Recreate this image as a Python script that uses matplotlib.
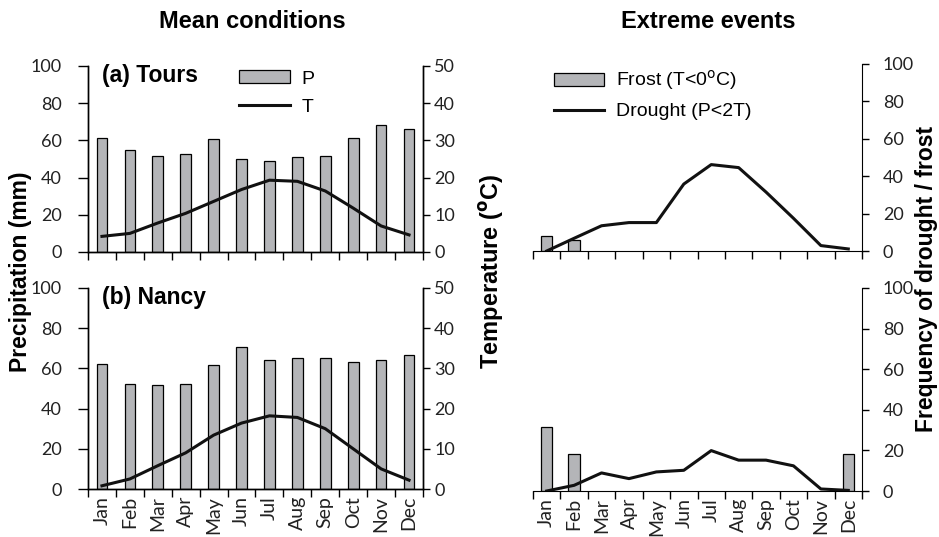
import numpy as np
import matplotlib
matplotlib.use("Agg")
import matplotlib.pyplot as plt
from matplotlib.ticker import FixedLocator, NullFormatter, FixedFormatter

months = ["Jan", "Feb", "Mar", "Apr", "May", "Jun",
          "Jul", "Aug", "Sep", "Oct", "Nov", "Dec"]

# mean conditions
tours_p = [61.5, 55, 51.5, 52.5, 60.5, 50, 49, 51, 51.5, 61.5, 68.5, 66]
tours_t = [4.2, 5.0, 7.8, 10.4, 13.6, 16.8, 19.3, 19.0, 16.4, 11.8, 7.0, 4.6]
nancy_p = [62.2, 52.4, 51.6, 52.4, 61.5, 70.6, 64, 65.3, 65.3, 63, 64, 66.8]
nancy_t = [0.8, 2.5, 5.8, 9.0, 13.4, 16.4, 18.2, 17.8, 15.0, 10.0, 5.0, 2.2]

# extreme events (%)
tours_frost = [8, 5.7, 0, 0, 0, 0, 0, 0, 0, 0, 0, 0]
tours_drought = [0, 6.8, 13.5, 15.2, 15.2, 35.8, 46.2, 44.6, 31.5, 17.5, 2.9, 1.1]
nancy_frost = [31.6, 18, 0, 0, 0, 0, 0, 0, 0, 0, 0, 18]
nancy_drought = [0, 2.8, 8.9, 6.1, 9.4, 10.2, 19.9, 15.2, 15.2, 12.4, 1.0, 0.3]

tick_font = "Lato"
bold_font = "Liberation Sans"
bar_col = "#b4b5b8"
tfs = 13
lfs = 17

W, H = 939, 537
fig = plt.figure(figsize=(W / 100, H / 100), dpi=100)


def px(x0, top, x1, bottom):
    return [x0 / W, 1 - bottom / H, (x1 - x0) / W, (bottom - top) / H]


x = np.arange(12)


def style_x(ax, labels):
    ax.set_xlim(-0.5, 11.5)
    ax.xaxis.set_major_locator(FixedLocator(np.arange(-0.5, 12, 1)))
    ax.xaxis.set_major_formatter(NullFormatter())
    ax.xaxis.set_minor_locator(FixedLocator(x))
    if labels:
        ax.xaxis.set_minor_formatter(FixedFormatter(months))
    else:
        ax.xaxis.set_minor_formatter(NullFormatter())
    ax.tick_params(axis="x", which="major", direction="out", length=6, width=1)
    ax.tick_params(axis="x", which="minor", length=0, pad=5,
                   labelrotation=90, labelsize=14, labelcolor="#222222")
    for lab in ax.get_xticklabels(minor=True):
        lab.set_fontfamily(tick_font)


def style_y(ax, top, length, pad):
    ax.set_ylim(0, top)
    ax.set_yticks(np.linspace(0, top, 6))
    ax.tick_params(axis="y", direction="out", length=length, width=1,
                   labelsize=tfs, pad=pad, labelcolor="#222222")
    for lab in ax.get_yticklabels():
        lab.set_fontfamily(tick_font)


def nonzero(vals):
    idx = [i for i, v in enumerate(vals) if v > 0]
    return idx, [vals[i] for i in idx]


leg_kw = dict(loc="upper left", frameon=False, handlelength=2.6,
              handleheight=0.65, labelspacing=0.55, handletextpad=0.6,
              prop={"family": "Liberation Sans", "size": 14})


def mean_panel(rect, p, t, title, legend, labels):
    ax = fig.add_axes(rect)
    bars = ax.bar(x, p, width=0.38, color=bar_col, edgecolor="black",
                  linewidth=0.9, zorder=2)
    style_x(ax, labels)
    style_y(ax, 100, 7, 12)
    ax.spines["top"].set_visible(False)
    ax2 = ax.twinx()
    line, = ax2.plot(x, t, color="#111111", lw=2.2)
    ax2.set_xlim(-0.5, 11.5)
    style_y(ax2, 50, 5, 3)
    ax2.spines["top"].set_visible(False)
    for a in (ax, ax2):
        for s in a.spines.values():
            s.set_linewidth(1)
    ax.text(0.042, 1.01, title, transform=ax.transAxes, fontsize=16.5,
            fontweight="bold", family=bold_font, va="top", ha="left")
    if legend:
        ax2.legend([bars, line], ["P", "T"], bbox_to_anchor=(0.40, 1.07),
                   **leg_kw)
    return ax, ax2


def extreme_panel(rect, frost, drought, legend, labels):
    ax = fig.add_axes(rect)
    fi, fv = nonzero(frost)
    bars = ax.bar(fi, fv, width=0.42, color=bar_col, edgecolor="black",
                  linewidth=0.9, zorder=2)
    line, = ax.plot(x, drought, color="#111111", lw=2.2, zorder=3)
    style_x(ax, labels)
    ax.yaxis.tick_right()
    style_y(ax, 100, 5, 10)
    ax.spines["top"].set_visible(False)
    ax.spines["left"].set_visible(False)
    if legend:
        ax.legend([bars, line], [r"Frost (T<0$^{\rm o}$C)", "Drought (P<2T)"],
                  bbox_to_anchor=(0.01, 1.07), **leg_kw)
    return ax


mean_panel(px(88, 66, 423, 252), tours_p, tours_t, "(a) Tours", True, False)
mean_panel(px(88, 288, 423, 489), nancy_p, nancy_t, "(b) Nancy", False, True)
extreme_panel(px(533, 64, 862, 251), tours_frost, tours_drought, True, False)
extreme_panel(px(533, 288, 862, 491), nancy_frost, nancy_drought, False, True)

fig.text(252 / W, 1 - 21 / H, "Mean conditions", ha="center", va="center",
         fontsize=lfs, fontweight="bold", family=bold_font)
fig.text(708 / W, 1 - 21 / H, "Extreme events", ha="center", va="center",
         fontsize=lfs, fontweight="bold", family=bold_font)
fig.text(21 / W, 1 - 272 / H, "Precipitation (mm)", rotation=90, ha="center",
         va="center", fontsize=16.5, fontweight="bold", family=bold_font)
fig.text(491 / W, 1 - 271 / H, r"Temperature ($\mathbf{^{o}}$C)", rotation=90,
         ha="center", va="center", fontsize=17, fontweight="bold",
         family=bold_font)
fig.text(926 / W, 1 - 279 / H, "Frequency of drought / frost", rotation=90,
         ha="center", va="center", fontsize=16.5, fontweight="bold",
         family=bold_font)

fig.savefig("out.png", dpi=100)
